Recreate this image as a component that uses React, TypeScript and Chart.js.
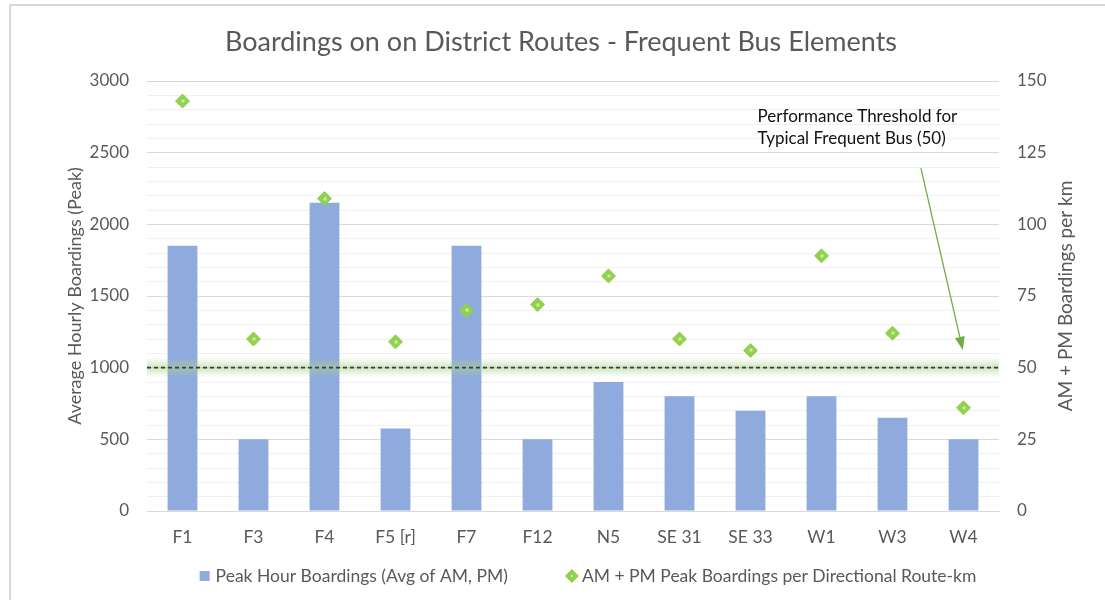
import React, { useEffect, useRef } from 'react';
import { Chart, registerables } from 'chart.js';

Chart.register(...registerables);

// ---------- data ----------
const routes = ['F1', 'F3', 'F4', 'F5 [r]', 'F7', 'F12', 'N5', 'SE 31', 'SE 33', 'W1', 'W3', 'W4'];
const peakHourBoardings = [1850, 500, 2150, 575, 1850, 500, 900, 800, 700, 800, 650, 500];
const boardingsPerRouteKm = [143, 60, 109, 59, 70, 72, 82, 60, 56, 89, 62, 36];
const thresholdValue = 50;

const chartTitle = 'Boardings on on District Routes - Frequent Bus Elements';
const leftAxisTitle = 'Average Hourly Boardings (Peak)';
const rightAxisTitle = 'AM + PM Boardings per km';
const barLabel = 'Peak Hour Boardings (Avg of AM, PM)';
const pointLabel = 'AM + PM Peak Boardings per Directional Route-km';
const annotationLines = ['Performance Threshold for', 'Typical Frequent Bus (50)'];

// annotation anchors in data units (category index, right-axis value)
const annotationTextAt = { x: 8.1, y: [137.5, 129.8] };
const arrowFrom = { x: 10.4, y: 119.6 };
const arrowTo = { x: 10.99, y: 56.2 };

// layout constants (pixels)
const LEGEND_CENTER_X = 588;
const LEGEND_Y = 576;
const LEGEND_GAP = 57;
const RIGHT_TITLE_X = 1066;

const FONT = 'Lato';
const TEXT = '#595959';
const BAR = '#8FAADC';
const GREEN = '#92D050';

function diamond(ctx: CanvasRenderingContext2D, cx: number, cy: number, r: number) {
  ctx.beginPath();
  ctx.moveTo(cx - r, cy);
  ctx.lineTo(cx, cy - r);
  ctx.lineTo(cx + r, cy);
  ctx.lineTo(cx, cy + r);
  ctx.closePath();
}

const overlayPlugin = {
  id: 'overlay',
  afterDatasetDraw(chart: any, args: any) {
    if (args.index !== 0) return;
    const { ctx, chartArea, scales } = chart;
    const y = scales.y1.getPixelForValue(thresholdValue);
    ctx.save();
    const g = ctx.createLinearGradient(0, y - 10, 0, y + 10);
    g.addColorStop(0, 'rgba(169,209,142,0)');
    g.addColorStop(0.5, 'rgba(169,209,142,0.55)');
    g.addColorStop(1, 'rgba(169,209,142,0)');
    ctx.fillStyle = g;
    ctx.fillRect(chartArea.left, y - 10, chartArea.right - chartArea.left, 20);
    ctx.setLineDash([4, 3]);
    ctx.lineWidth = 1.6;
    ctx.strokeStyle = '#3a3a3a';
    ctx.beginPath();
    ctx.moveTo(chartArea.left, y);
    ctx.lineTo(chartArea.right, y);
    ctx.stroke();
    ctx.restore();
  },
  afterDatasetsDraw(chart: any) {
    const { ctx, scales } = chart;
    ctx.save();
    // light centre of each diamond
    const meta = chart.getDatasetMeta(1);
    ctx.fillStyle = '#c9ef94';
    meta.data.forEach((p: any) => {
      ctx.fillRect(Math.round(p.x) - 1.5, Math.round(p.y) - 1.5, 3, 3);
    });
    // annotation text
    ctx.fillStyle = '#111111';
    ctx.font = `17px ${FONT}`;
    ctx.textAlign = 'left';
    ctx.textBaseline = 'middle';
    const tx = scales.x.getPixelForValue(annotationTextAt.x);
    annotationLines.forEach((line, i) => {
      ctx.fillText(line, tx, scales.y1.getPixelForValue(annotationTextAt.y[i]));
    });
    // arrow
    const x0 = scales.x.getPixelForValue(arrowFrom.x);
    const y0 = scales.y1.getPixelForValue(arrowFrom.y);
    const x1 = scales.x.getPixelForValue(arrowTo.x);
    const y1 = scales.y1.getPixelForValue(arrowTo.y);
    const ang = Math.atan2(y1 - y0, x1 - x0);
    const headLen = 13;
    const headW = 5;
    ctx.strokeStyle = '#70AD47';
    ctx.fillStyle = '#70AD47';
    ctx.lineWidth = 1.3;
    ctx.beginPath();
    ctx.moveTo(x0, y0);
    ctx.lineTo(x1 - Math.cos(ang) * headLen, y1 - Math.sin(ang) * headLen);
    ctx.stroke();
    ctx.beginPath();
    ctx.moveTo(x1, y1);
    const bx = x1 - Math.cos(ang) * headLen;
    const by = y1 - Math.sin(ang) * headLen;
    ctx.lineTo(bx + Math.sin(ang) * headW, by - Math.cos(ang) * headW);
    ctx.lineTo(bx - Math.sin(ang) * headW, by + Math.cos(ang) * headW);
    ctx.closePath();
    ctx.fill();
    ctx.restore();
  },
  afterDraw(chart: any) {
    const { ctx, chartArea } = chart;
    const ds = chart.data.datasets;
    ctx.save();
    // right axis title (reads bottom to top)
    ctx.fillStyle = TEXT;
    ctx.font = `19px ${FONT}`;
    ctx.textAlign = 'center';
    ctx.textBaseline = 'middle';
    ctx.save();
    ctx.translate(RIGHT_TITLE_X, (chartArea.top + chartArea.bottom) / 2);
    ctx.rotate(-Math.PI / 2);
    ctx.fillText(rightAxisTitle, 0, 0);
    ctx.restore();
    // legend
    ctx.font = `17.5px ${FONT}`;
    ctx.textAlign = 'left';
    const t1 = ctx.measureText(ds[0].label).width;
    const t2 = ctx.measureText(ds[1].label).width;
    const total = 10 + 6 + t1 + LEGEND_GAP + 14 + 3 + t2;
    let x = LEGEND_CENTER_X - total / 2;
    const y = LEGEND_Y;
    ctx.fillStyle = ds[0].backgroundColor;
    ctx.fillRect(x, y - 5, 10, 10);
    x += 16;
    ctx.fillStyle = TEXT;
    ctx.fillText(ds[0].label, x, y);
    x += t1 + LEGEND_GAP;
    ctx.fillStyle = ds[1].backgroundColor;
    diamond(ctx, x + 7, y, 7);
    ctx.fill();
    ctx.fillStyle = '#c9ef94';
    ctx.fillRect(x + 6, y - 1, 2, 2);
    x += 17;
    ctx.fillStyle = TEXT;
    ctx.fillText(ds[1].label, x, y);
    ctx.restore();
  },
};

export default function App() {
  const ref = useRef<HTMLCanvasElement | null>(null);

  useEffect(() => {
    if (!ref.current) return;
    const chart = new Chart(ref.current, {
      type: 'bar',
      data: {
        labels: routes,
        datasets: [
          {
            type: 'bar',
            label: barLabel,
            data: peakHourBoardings,
            backgroundColor: BAR,
            borderWidth: 0,
            barPercentage: 0.42,
            categoryPercentage: 1,
            yAxisID: 'y',
            order: 1,
          } as any,
          {
            type: 'line',
            label: pointLabel,
            data: boardingsPerRouteKm,
            showLine: false,
            pointStyle: 'rectRot',
            pointRadius: 7,
            pointHoverRadius: 7,
            backgroundColor: GREEN,
            borderColor: GREEN,
            pointBorderWidth: 1,
            yAxisID: 'y1',
            order: 0,
          } as any,
        ],
      },
      options: {
        responsive: false,
        animation: false,
        layout: { padding: { left: 17, right: 0, top: 0, bottom: 44 } },
        plugins: {
          tooltip: { enabled: false },
          legend: { display: false },
          title: {
            display: true,
            text: chartTitle,
            color: TEXT,
            font: { family: FONT, size: 27, weight: 'normal' },
            padding: { top: 25.8, bottom: 22.8 },
          },
        },
        scales: {
          x: {
            grid: { display: false },
            border: { display: true, color: '#d9d9d9' },
            ticks: { color: TEXT, font: { family: FONT, size: 17.5 }, padding: 8 },
            afterFit: (s: any) => { s.height = 45; },
          },
          y: {
            position: 'left',
            min: 0,
            max: 3000,
            grid: {
              drawTicks: false,
              color: (c: any) => (c.tick && c.tick.value % 500 === 0 ? '#d9d9d9' : '#f0f0f0'),
            },
            border: { display: false },
            ticks: {
              stepSize: 100,
              maxTicksLimit: 100,
              autoSkip: false,
              padding: 18,
              color: TEXT,
              font: { family: FONT, size: 17 },
              callback: (v: any) => (Number(v) % 500 === 0 ? String(v) : ''),
            },
            title: {
              display: true,
              text: leftAxisTitle,
              color: TEXT,
              font: { family: FONT, size: 18 },
              padding: { top: 47.2, bottom: 0 },
            },
            afterFit: (s: any) => { s.width = 130; },
          },
          y1: {
            position: 'right',
            min: 0,
            max: 150,
            grid: { drawOnChartArea: false, drawTicks: false },
            border: { display: false },
            ticks: {
              stepSize: 25,
              padding: 18,
              color: TEXT,
              font: { family: FONT, size: 17 },
            },
            afterFit: (s: any) => { s.width = 106; },
          },
        },
      },
      plugins: [overlayPlugin],
    } as any);
    return () => chart.destroy();
  }, []);

  return (
    <div style={{ position: 'fixed', left: 0, top: 0, width: 1105, height: 600, overflow: 'hidden', background: '#fff' }}>
      <div
        style={{
          position: 'absolute',
          left: 9,
          top: 4,
          width: 1200,
          height: 700,
          borderLeft: '2px solid #d9d9d9',
          borderTop: '2px solid #d9d9d9',
        }}
      />
      <canvas ref={ref} width={1105} height={600} style={{ position: 'absolute', left: 0, top: 0, display: 'block' }} />
    </div>
  );
}
